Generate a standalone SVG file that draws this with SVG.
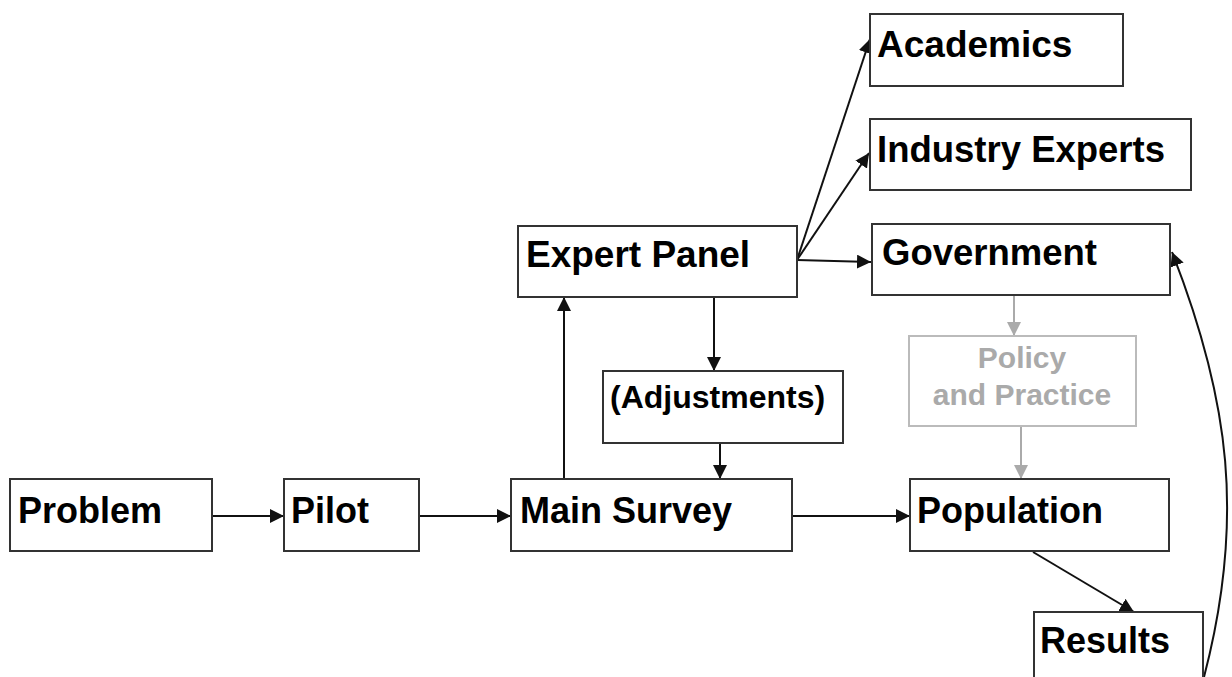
<svg xmlns="http://www.w3.org/2000/svg" width="1232" height="677" viewBox="0 0 1232 677">
<style>
.box{fill:#fff;stroke:#333;stroke-width:2}
.gbox{fill:#fff;stroke:#bbb;stroke-width:2}
.t{font-family:"Liberation Sans",Arial,sans-serif;font-weight:bold;font-size:36px;fill:#000}
.gt{font-family:"Liberation Sans",Arial,sans-serif;font-weight:bold;font-size:30px;fill:#aaa;text-anchor:middle}
.c{fill:none;stroke:#111;stroke-width:2}
.gc{fill:none;stroke:#aaa;stroke-width:2}
</style>
<defs>
<marker id="ah" viewBox="0 0 14 14" refX="14" refY="7" markerWidth="14" markerHeight="14" markerUnits="userSpaceOnUse" orient="auto"><path d="M0,0 L14,7 L0,14 Z" fill="#111"/></marker>
<marker id="gah" viewBox="0 0 14 14" refX="14" refY="7" markerWidth="14" markerHeight="14" markerUnits="userSpaceOnUse" orient="auto"><path d="M0,0 L14,7 L0,14 Z" fill="#aaa"/></marker>
</defs>
<rect width="1232" height="677" fill="#fff"/>
<g id="connectors">
<line class="c" x1="212" y1="516" x2="284" y2="516" marker-end="url(#ah)"/>
<line class="c" x1="419" y1="516" x2="511" y2="516" marker-end="url(#ah)"/>
<line class="c" x1="792" y1="516" x2="910" y2="516" marker-end="url(#ah)"/>
<line class="c" x1="564" y1="479" x2="564" y2="297" marker-end="url(#ah)"/>
<line class="c" x1="714" y1="297" x2="714" y2="371" marker-end="url(#ah)"/>
<line class="c" x1="720" y1="443" x2="720" y2="479" marker-end="url(#ah)"/>
<line class="c" x1="797" y1="260" x2="870" y2="39" marker-end="url(#ah)"/>
<line class="c" x1="797" y1="260" x2="869" y2="153" marker-end="url(#ah)"/>
<line class="c" x1="797" y1="260" x2="871" y2="262" marker-end="url(#ah)"/>
<line class="gc" x1="1014" y1="295" x2="1014" y2="336" marker-end="url(#gah)"/>
<line class="gc" x1="1021" y1="426" x2="1021" y2="479" marker-end="url(#gah)"/>
<line class="c" x1="1033" y1="552" x2="1134" y2="612" marker-end="url(#ah)"/>
<path class="c" d="M1204,677 C1245,520 1230,400 1172,252" marker-end="url(#ah)"/>
</g>
<g id="problem"><rect class="box" x="10" y="479" width="202" height="72"/><text class="t" x="18" y="523">Problem</text></g>
<g id="pilot"><rect class="box" x="284" y="479" width="135" height="72"/><text class="t" x="291" y="523">Pilot</text></g>
<g id="main-survey"><rect class="box" x="511" y="479" width="281" height="72"/><text class="t" x="520" y="523">Main Survey</text></g>
<g id="population"><rect class="box" x="910" y="479" width="259" height="72"/><text class="t" x="917" y="523">Population</text></g>
<g id="results"><rect class="box" x="1034" y="612" width="169" height="80"/><text class="t" x="1040" y="653">Results</text></g>
<g id="expert-panel"><rect class="box" x="518" y="226" width="279" height="71"/><text class="t" x="526" y="267" style="font-size:37px">Expert Panel</text></g>
<g id="adjustments"><rect class="box" x="603" y="371" width="240" height="72"/><text class="t" x="610" y="408" style="font-size:32px">(Adjustments)</text></g>
<g id="academics"><rect class="box" x="870" y="14" width="253" height="72"/><text class="t" x="877" y="57" style="font-size:37px">Academics</text></g>
<g id="industry-experts"><rect class="box" x="870" y="119" width="321" height="71"/><text class="t" x="877" y="162" style="font-size:36.5px">Industry Experts</text></g>
<g id="government"><rect class="box" x="872" y="224" width="298" height="71"/><text class="t" x="882" y="265" style="font-size:36.5px">Government</text></g>
<g id="policy"><rect class="gbox" x="909" y="336" width="227" height="90"/><text class="gt" x="1022" y="368">Policy</text><text class="gt" x="1022" y="405">and Practice</text></g>
</svg>
